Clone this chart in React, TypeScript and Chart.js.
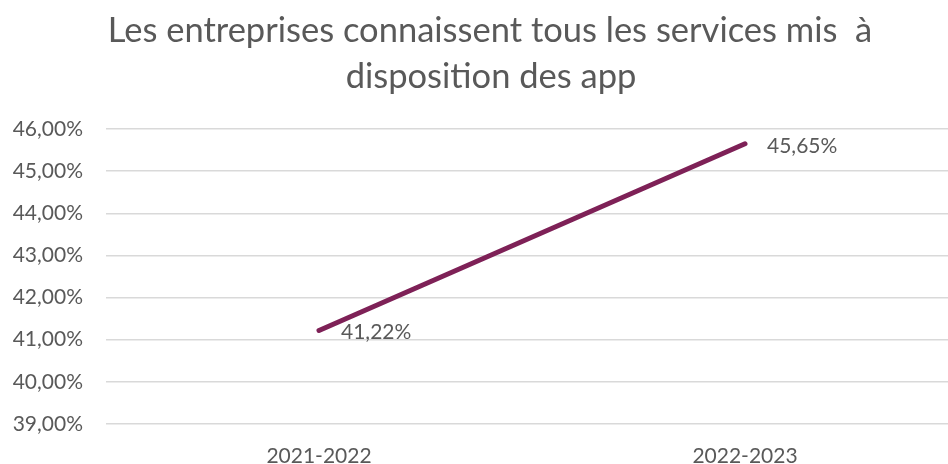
import React, { useEffect, useRef } from "react";
import { Chart, registerables } from "chart.js";

Chart.register(...registerables);

const categories = ["2021-2022", "2022-2023"];
const values = [41.22, 45.65];
const yMin = 39;
const yMax = 46;
const titleLines = ["Les entreprises connaissent tous les services mis  à", "disposition des app"];

const FONT = "Lato, 'Open Sans', sans-serif";
const TEXT = "#595959";
const LINE = "#7E2157";

const fmt = (v: number) => v.toFixed(2).replace(".", ",") + "%";

export default function App() {
  const ref = useRef<HTMLCanvasElement | null>(null);
  useEffect(() => {
    if (!ref.current) return;
    const titlePlugin = {
      id: "customTitle",
      afterDraw(chart: any) {
        const ctx = chart.ctx;
        ctx.save();
        ctx.fillStyle = TEXT;
        ctx.font = `34.5px ${FONT}`;
        ctx.textAlign = "center";
        ctx.textBaseline = "alphabetic";
        ctx.fillText(titleLines[0], 490, 42);
        ctx.fillText(titleLines[1], 491, 88);
        ctx.restore();
      },
    };
    const labelPlugin = {
      id: "dataLabels",
      afterDatasetsDraw(chart: any) {
        const ctx = chart.ctx;
        const meta = chart.getDatasetMeta(0);
        ctx.save();
        ctx.fillStyle = TEXT;
        ctx.font = `21px ${FONT}`;
        ctx.textAlign = "left";
        ctx.textBaseline = "middle";
        meta.data.forEach((pt: any, i: number) => {
          ctx.fillText(fmt(values[i]), pt.x + 22, pt.y + 2);
        });
        ctx.restore();
      },
    };
    const chart = new Chart(ref.current, {
      type: "line",
      data: {
        labels: categories,
        datasets: [
          {
            data: values,
            borderColor: LINE,
            borderWidth: 5,
            borderCapStyle: "round",
            pointRadius: 0,
            tension: 0,
          },
        ],
      },
      options: {
        animation: false,
        responsive: false,
        devicePixelRatio: 1,
        layout: { padding: { top: 129, left: 0, right: 0, bottom: 0 } },
        plugins: { legend: { display: false }, title: { display: false }, tooltip: { enabled: false } },
        scales: {
          x: {
            offset: true,
            grid: { display: false, drawTicks: false },
            border: { display: false },
            ticks: { color: TEXT, font: { family: FONT, size: 21 }, padding: 20 },
            afterFit(s: any) { s.height = 40; },
          },
          y: {
            min: yMin,
            max: yMax,
            grid: { color: "#D9D9D9", lineWidth: 1.5, drawTicks: false },
            border: { display: false },
            ticks: {
              stepSize: 1,
              color: TEXT,
              font: { family: FONT, size: 21 },
              padding: 23,
              callback: (v: any) => fmt(Number(v)),
            },
            afterFit(s: any) { s.width = 106; },
          },
        },
      },
      plugins: [titlePlugin, labelPlugin],
    } as any);
    return () => chart.destroy();
  }, []);
  return (
    <div style={{ position: "fixed", left: 0, top: 0, width: 948, height: 464, overflow: "hidden", background: "#fff" }}>
      <canvas ref={ref} width={958} height={464} style={{ display: "block" }} />
    </div>
  );
}
